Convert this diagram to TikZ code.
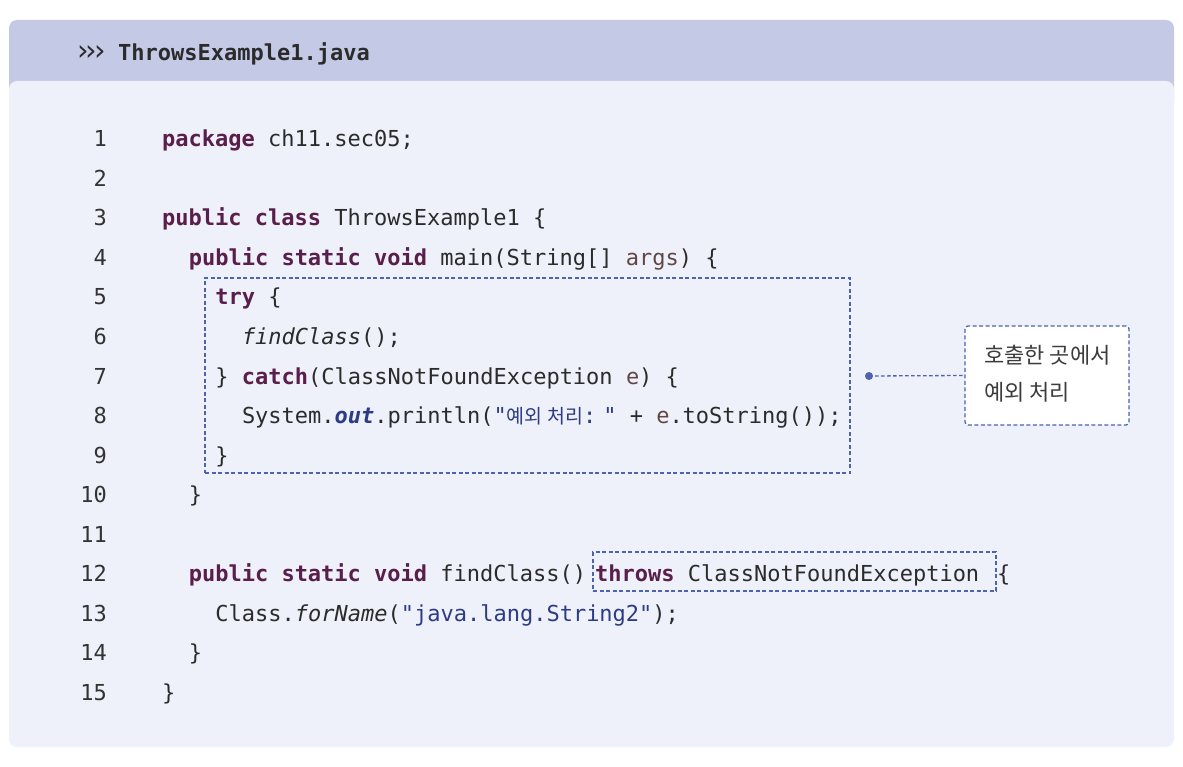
\documentclass[tikz,border=0pt]{standalone}
\usepackage{fontspec}
\usetikzlibrary{positioning}
\newfontfamily\codefont{DejaVu Sans Mono}
\newfontfamily\krfont{Noto Sans CJK KR}
\newfontfamily\symfont{DejaVu Sans}
\definecolor{pagebg}{HTML}{FFFFFF}
\definecolor{headbg}{HTML}{C4CAE6}
\definecolor{bodybg}{HTML}{EEF1F9}
\definecolor{txtc}{HTML}{2B2B2B}
\definecolor{kwc}{HTML}{5A1E4B}
\definecolor{strc}{HTML}{2D3B86}
\definecolor{varc}{HTML}{604646}
\definecolor{boxc}{HTML}{4D63AD}
\definecolor{numc}{HTML}{333333}
\definecolor{notec}{HTML}{3C3C3C}
\newcommand\kw[1]{\textcolor{kwc}{\bfseries #1}}
\newcommand\strc[1]{\textcolor{strc}{#1}}
\newcommand\varc[1]{\textcolor{varc}{#1}}
\newcommand\kr[1]{{\krfont\fontsize{19.5}{20}\selectfont #1}}
\begin{document}
\begin{tikzpicture}[x=1pt,y=-1pt,
  codeline/.style={anchor=base west,inner sep=0pt,font=\codefont\fontsize{22}{26}\selectfont,text=txtc},
  numline/.style={anchor=base east,inner sep=0pt,font=\codefont\fontsize{22}{26}\selectfont,text=numc},
  dashbox/.style={draw=boxc,line width=1.3pt,dash pattern=on 4pt off 2.5pt,inner sep=0pt},
  notebox/.style={draw=boxc,fill=white,line width=1.3pt,dash pattern=on 4pt off 2.5pt,rounded corners=3pt,inner sep=0pt,
    minimum width=164pt,minimum height=99pt},
  notetext/.style={anchor=base west,inner sep=0pt,font=\krfont\fontsize{22}{26}\selectfont,text=notec},
  link/.style={draw=boxc,line width=1.3pt,dash pattern=on 3.5pt off 2.5pt}
]
\useasboundingbox (0,0) rectangle (1183,767);
\fill[pagebg] (0,0) rectangle (1183,767);
% panel
\fill[headbg,rounded corners=8pt] (9,20) rectangle (1174,110);
\fill[bodybg,rounded corners=8pt] (9,81) rectangle (1174,747);
% header
\node[anchor=base west,inner sep=0pt,font=\symfont\fontsize{29}{30}\selectfont,text=txtc] (chev) at (77,61) {›\kern-3pt›\kern-3pt›};
\node[anchor=base west,inner sep=0pt,font=\codefont\bfseries\fontsize{22}{26}\selectfont,text=txtc] (title) at (118,61) {ThrowsExample1.java};
% line numbers
\foreach \n in {1,...,15}{
  \node[numline] (n\n) at (107,{147+(\n-1)*39.5}) {\n};
}
\def\cw{13.3}
\def\bl#1{147+(#1-1)*39.5}
\node[codeline] (l1) at (162,{\bl{1}}) {\kw{package} ch11.sec05;};
\node[codeline] (l3) at (162,{\bl{3}}) {\kw{public class} ThrowsExample1 \{};
\node[codeline] (l4) at ({162+2*\cw},{\bl{4}}) {\kw{public static void} main(String[] \varc{args}) \{};
\node[codeline] (l5) at ({162+4*\cw},{\bl{5}}) {\kw{try} \{};
\node[codeline] (l6) at ({162+6*\cw},{\bl{6}}) {\textit{findClass}();};
\node[codeline] (l7) at ({162+4*\cw},{\bl{7}}) {\} \kw{catch}(ClassNotFoundException \varc{e}) \{};
\node[codeline] (l8) at ({162+6*\cw},{\bl{8}}) {System.\textcolor{strc}{\bfseries\itshape out}.println(\strc{"\kr{예외 처리}:\hspace{7pt}"} + \varc{e}.toString());};
\node[codeline] (l9) at ({162+4*\cw},{\bl{9}}) {\}};
\node[codeline] (l10) at ({162+2*\cw},{\bl{10}}) {\}};
\node[codeline] (l12) at ({162+2*\cw},{\bl{12}}) {\kw{public static void} findClass()\kern9pt\kw{throws} ClassNotFoundException\kern18pt\{};
\node[codeline] (l13) at ({162+4*\cw},{\bl{13}}) {Class.\textit{forName}(\strc{"java.lang.String2"});};
\node[codeline] (l14) at ({162+2*\cw},{\bl{14}}) {\}};
\node[codeline] (l15) at (162,{\bl{15}}) {\}};
% dashed boxes
\node[dashbox,minimum width=645pt,minimum height=195pt] (trybox) at (527.5,375.5) {};
\node[dashbox,minimum width=403pt,minimum height=39pt] (throwsbox) at (794.5,571.5) {};
% callout
\node[notebox] (note) at (1047,375.5) {};
\node[notetext] (note1) at (984,363) {호출한 곳에서};
\node[notetext] (note2) at (984,400) {예외 처리};
\coordinate (dot) at (869,376);
\draw[link] (dot) -- (note.west);
\fill[boxc] (dot) circle (4pt);
\end{tikzpicture}
\end{document}
